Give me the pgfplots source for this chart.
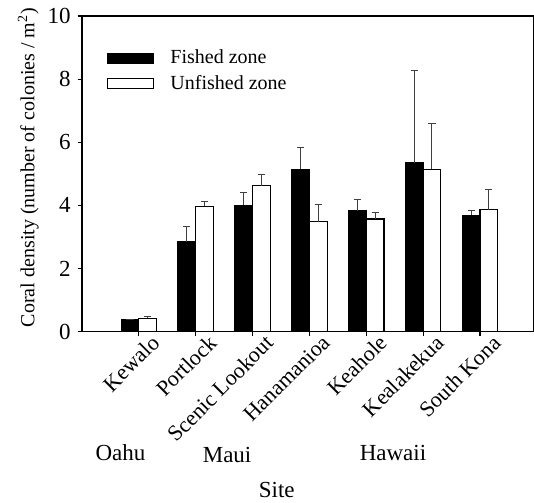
\documentclass[border=0pt]{standalone}
\usepackage{fontspec}
\setmainfont{Liberation Serif}
\usepackage{pgfplots}
\pgfplotsset{compat=1.18}
\begin{document}
\begin{tikzpicture}
\begin{axis}[
  name=ax,
  scale only axis,
  width=226pt, height=157.85pt,
  xmin=0, xmax=7.95, ymin=0, ymax=10,
  ybar=0pt, bar width=8.85pt,
  xtick={1,...,7},
  xticklabels={Kewalo,Portlock,Scenic Lookout,Hanamanioa,Keahole,Kealakekua,South Kona},
  xticklabel style={rotate=45, anchor=north east, font=\fontsize{11}{13}\selectfont, inner sep=1pt, xshift=6pt, yshift=-2pt},
  ytick={0,2,4,6,8,10},
  yticklabel style={font=\fontsize{11.5}{13}\selectfont},
  /pgf/number format/assume math mode=true,
  tick pos=left, tick align=outside,
  major tick length=2.2pt,
  axis line style={line width=0.6pt},
  tick style={line width=0.6pt, black},
  ylabel={Coral density (number of colonies / m\textsuperscript{2})},
  ylabel style={at={(axis description cs:-0.119,0.52)}, anchor=center, font=\fontsize{10}{12}\selectfont},
  xlabel={Site},
  xlabel style={at={(axis description cs:0.431,-0.5)}, anchor=center, font=\fontsize{11.5}{13}\selectfont},
  clip=false,
  legend cell align=left,
  legend style={draw=none, fill=none, at={(axis description cs:0.055,0.906)}, anchor=north west,
    font=\fontsize{10}{12}\selectfont, row sep=0pt, inner sep=0pt,
    /tikz/every odd column/.append style={column sep=6pt}},
  legend image code/.code={\draw[#1, line width=0.6pt] (0pt,-2.5pt) rectangle (23pt,2.5pt);},
  error bars/y dir=plus, error bars/y explicit,
  error bars/error bar style={line width=0.5pt, black!75},
  error bars/error mark options={rotate=90, mark size=1.8pt, line width=0.5pt, black!75},
]
\addplot[fill=black, draw=black, line width=0.6pt] coordinates {
  (1,0.37) +- (0,0.02)
  (2,2.84) +- (0,0.50)
  (3,4.00) +- (0,0.41)
  (4,5.15) +- (0,0.67)
  (5,3.83) +- (0,0.36)
  (6,5.35) +- (0,2.92)
  (7,3.69) +- (0,0.14)
};
\addlegendentry{Fished zone}
\addplot[fill=white, draw=black, line width=0.6pt] coordinates {
  (1,0.42) +- (0,0.05)
  (2,3.97) +- (0,0.14)
  (3,4.62) +- (0,0.36)
  (4,3.48) +- (0,0.54)
  (5,3.57) +- (0,0.20)
  (6,5.14) +- (0,1.47)
  (7,3.86) +- (0,0.63)
};
\addlegendentry{Unfished zone}
\node[font=\fontsize{11.5}{13}\selectfont] at (axis description cs:0.085,-0.383) {Oahu};
\node[font=\fontsize{11.5}{13}\selectfont] at (axis description cs:0.321,-0.392) {Maui};
\node[font=\fontsize{11.5}{13}\selectfont] at (axis description cs:0.688,-0.383) {Hawaii};
\end{axis}
\pgfresetboundingbox
\path[use as bounding box] (ax.south west) ++(-41pt,-85.15pt) rectangle ++(267pt,251pt);
\end{tikzpicture}
\end{document}
